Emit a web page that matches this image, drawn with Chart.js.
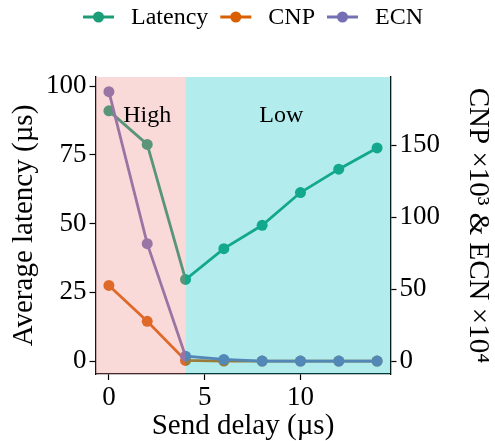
<!DOCTYPE html>
<html>
<head>
<meta charset="utf-8">
<script src="https://cdn.jsdelivr.net/npm/chart.js@4"></script>
<style>
  body { margin: 0; background: white; }
  #wrap { width: 495px; height: 441px; }
</style>
</head>
<body>
<div id="wrap"><canvas id="latChart"></canvas></div>
<script>
// send delay in µs
const sendDelay = [0, 2, 4, 6, 8, 10, 12, 14];
// average latency (µs), left axis
const latency = [91.0, 78.8, 29.7, 40.9, 49.4, 61.3, 69.8, 77.5];
// CNP x10^3 and ECN x10^4, right axis
const cnp = [52.6, 27.7, 0.5, 0.1, 0.05, 0.05, 0.05, 0.05];
const ecn = [187.1, 81.6, 3.5, 1.2, 0.1, 0.1, 0.1, 0.1];

const xTicks = [0, 5, 10];
const yTicks = [0, 25, 50, 75, 100];
const y2Ticks = [0, 50, 100, 150];

// shaded regions: High below 4 µs, Low above
const regionSplit = 4;
const regionNames = ['High', 'Low'];
const regionLabelX = [2, 9];
const regionLabelY = 89.4;

const FONT = '"Liberation Serif", "Times New Roman", serif';
const colLat = '#1b9e77', colCnp = '#d95f02', colEcn = '#7570b3';

Chart.defaults.font.family = FONT;
Chart.defaults.color = 'black';

function pts(ys){
    return sendDelay.map((x, i) => ({x: x, y: ys[i]}));
}

// legend drawn by hand (line + dot marker, serif text) above the plot
const topLegend = {
    id: 'topLegend',
    afterDraw(chart){
        const ctx = chart.ctx;
        const sets = chart.data.datasets;
        ctx.save();
        ctx.font = '24px ' + FONT;
        ctx.textBaseline = 'middle';
        ctx.textAlign = 'left';
        const markW = 31, gapIn = 17, gapOut = 12;
        const widths = sets.map(ds => markW + gapIn + ctx.measureText(ds.label).width);
        const total = widths.reduce((a, b) => a + b, 0) + gapOut * (sets.length - 1);
        let x = 253 - total / 2;
        const y = 17;
        sets.forEach((ds, i) => {
            ctx.strokeStyle = ds.borderColor;
            ctx.lineWidth = 3;
            ctx.beginPath(); ctx.moveTo(x, y); ctx.lineTo(x + markW, y); ctx.stroke();
            ctx.fillStyle = ds.borderColor;
            ctx.beginPath(); ctx.arc(x + markW / 2, y, 5.5, 0, Math.PI * 2); ctx.fill();
            ctx.fillStyle = 'black';
            ctx.fillText(ds.label, x + markW + gapIn, y + 1);
            x += widths[i] + gapOut;
        });
        ctx.restore();
    }
};

const shading = {
    id: 'shading',
    afterDatasetsDraw(chart){
        const {ctx, chartArea} = chart;
        const xs = chart.scales.x, ys = chart.scales.y;
        const sx = xs.getPixelForValue(regionSplit);
        ctx.save();
        ctx.fillStyle = 'rgba(240,128,128,0.3)';
        ctx.fillRect(chartArea.left, chartArea.top, sx - chartArea.left, chartArea.bottom - chartArea.top);
        ctx.fillStyle = 'rgba(0,191,191,0.3)';
        ctx.fillRect(sx, chartArea.top, chartArea.right - sx, chartArea.bottom - chartArea.top);
        ctx.fillStyle = 'black';
        ctx.font = '24px ' + FONT;
        ctx.textAlign = 'center';
        ctx.textBaseline = 'middle';
        regionNames.forEach((n, i) => {
            ctx.fillText(n, xs.getPixelForValue(regionLabelX[i]), ys.getPixelForValue(regionLabelY));
        });
        ctx.restore();
    }
};

function mkDataset(label, ys, color, axis, order){
    return {
        label: label,
        data: pts(ys),
        yAxisID: axis,
        borderColor: color,
        backgroundColor: color,
        pointBackgroundColor: color,
        pointBorderWidth: 0,
        pointRadius: 5.5,
        borderWidth: 2.8,
        tension: 0,
        order: order
    };
}

const tickFont = {family: FONT, size: 27};
const titleFont = {family: FONT, size: 29, lineHeight: 1};
const gridOpts = {drawOnChartArea: false, drawTicks: true, tickLength: 6, tickColor: 'black', tickWidth: 1.2};
const borderOpts = {display: true, color: 'black', width: 1.3};

const ctx = document.getElementById('latChart').getContext('2d');

const chart = new Chart(ctx, {
    type: 'line',
    data: {
        datasets: [
            mkDataset('Latency', latency, colLat, 'y', 3),
            mkDataset('CNP', cnp, colCnp, 'y2', 2),
            mkDataset('ECN', ecn, colEcn, 'y2', 1)
        ]
    },
    plugins: [shading, topLegend],
    options: {
        responsive: true,
        maintainAspectRatio: false,
        animation: false,
        layout: {padding: {top: 77, left: 0, right: 0, bottom: 0}},
        plugins: {
            tooltip: {enabled: false},
            legend: {display: false}
        },
        scales: {
            x: {
                type: 'linear',
                min: -0.7,
                max: 14.7,
                afterBuildTicks(s){ s.ticks = xTicks.map(v => ({value: v})); },
                afterFit(s){ s.height = 67; },
                ticks: {color: 'black', font: tickFont, padding: 2, maxRotation: 0},
                grid: gridOpts,
                border: borderOpts,
                title: {display: true, text: 'Send delay (µs)', color: 'black', font: titleFont, padding: {top: 0, bottom: 0}}
            },
            y: {
                position: 'left',
                min: -4.66,
                max: 103.3,
                afterBuildTicks(s){ s.ticks = yTicks.map(v => ({value: v})); },
                afterFit(s){ s.width = 95.5; },
                ticks: {color: 'black', font: tickFont, padding: 3},
                grid: gridOpts,
                border: borderOpts,
                title: {display: true, text: 'Average latency (µs)', color: 'black', font: titleFont, padding: {top: 10, bottom: 0}}
            },
            y2: {
                position: 'right',
                min: -8.9,
                max: 197.3,
                afterBuildTicks(s){ s.ticks = y2Ticks.map(v => ({value: v})); },
                afterFit(s){ s.width = 104.5; },
                ticks: {color: 'black', font: tickFont, padding: 3},
                grid: gridOpts,
                border: borderOpts,
                title: {display: true, text: 'CNP ×10³ & ECN ×10⁴', color: 'black', font: titleFont, padding: {top: 3, bottom: 0}}
            }
        }
    }
});
</script>
</body>
</html>
